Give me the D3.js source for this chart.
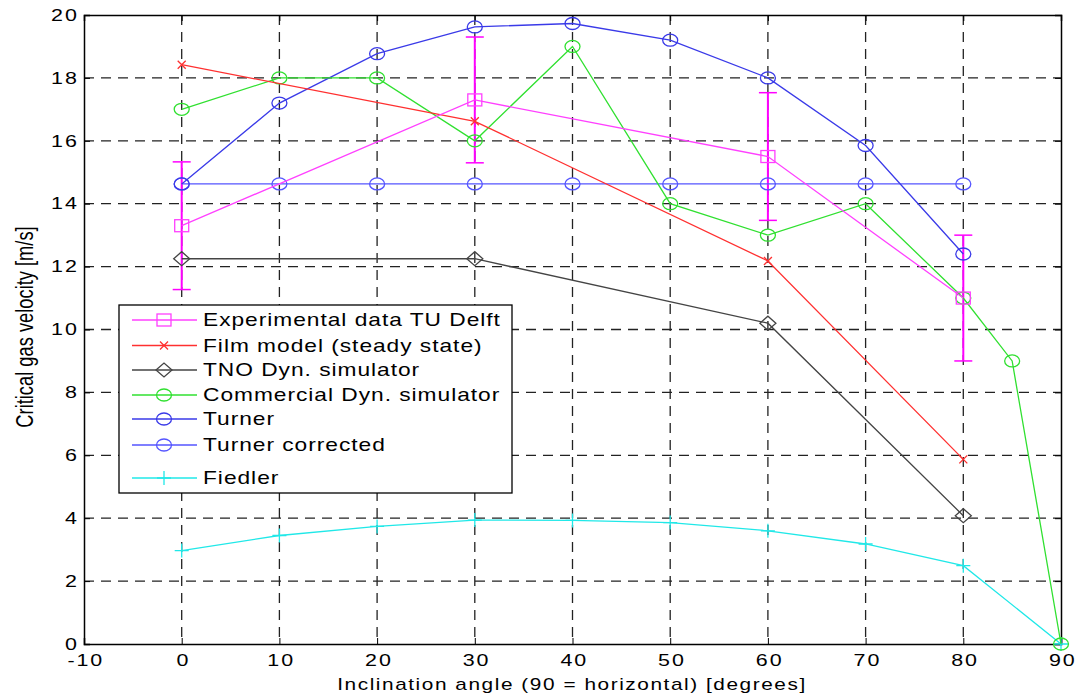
<!DOCTYPE html>
<html>
<head>
<meta charset="utf-8">
<script src="https://cdn.jsdelivr.net/npm/d3@7"></script>
<style>
  body { margin: 0; background: #fff; }
  text { font-family: "Liberation Sans", Arial, sans-serif; fill: #000; }
</style>
</head>
<body>
<div id="viz"></div>
<script>
// data
var angles = [0, 10, 20, 30, 40, 50, 60, 70, 80];
var expAngles = [0, 30, 60, 80];
var expVals = [13.3, 17.3, 15.5, 11.0];
var expErr = [2.03, 2.0, 2.03, 2.0];
var filmAngles = [0, 30, 60, 80];
var filmVals = [18.42, 16.62, 12.18, 5.87];
var tnoAngles = [0, 30, 60, 80];
var tnoVals = [12.25, 12.25, 10.2, 4.08];
var comAngles = [0, 10, 20, 30, 40, 50, 60, 70, 80, 85, 90];
var comVals = [17, 18, 18, 16, 19, 14, 13, 14, 11, 9, 0];
var turnerVals = [14.63, 17.2, 18.77, 19.62, 19.73, 19.2, 18.0, 15.85, 12.4];
var turnerCorrVals = [14.63, 14.63, 14.63, 14.63, 14.63, 14.63, 14.63, 14.63, 14.63];
var fiedlerAngles = [0, 10, 20, 30, 40, 50, 60, 70, 80, 90];
var fiedlerVals = [2.97, 3.45, 3.74, 3.94, 3.93, 3.86, 3.6, 3.18, 2.49, 0];
var xTicks = [-10, 0, 10, 20, 30, 40, 50, 60, 70, 80, 90];
var yTicks = [0, 2, 4, 6, 8, 10, 12, 14, 16, 18, 20];

var width = 1087, height = 697;
var plotL = 84, plotR = 1061, plotT = 15, plotB = 644;
var stretch = 1.3; // the original figure is a bit wider than tall in its lettering

var svg = d3.select("#viz").append("svg")
  .attr("width", width).attr("height", height);

var x = d3.scaleLinear().domain([-10, 90]).range([plotL, plotR]);
var y = d3.scaleLinear().domain([0, 20]).range([plotB, plotT]);

// dashed grid
svg.append("g").selectAll("line")
  .data(xTicks.filter(function(d) { return d > -10 && d < 90; }))
  .enter().append("line")
  .attr("x1", function(d) { return x(d); }).attr("x2", function(d) { return x(d); })
  .attr("y1", plotT).attr("y2", plotB)
  .attr("stroke", "#222").attr("stroke-width", 1.3).attr("stroke-dasharray", "10,7");
svg.append("g").selectAll("line")
  .data(yTicks.filter(function(d) { return d > 0 && d < 20; }))
  .enter().append("line")
  .attr("x1", plotL).attr("x2", plotR)
  .attr("y1", function(d) { return y(d); }).attr("y2", function(d) { return y(d); })
  .attr("stroke", "#222").attr("stroke-width", 1.3).attr("stroke-dasharray", "10,7");

// axes with inward ticks
var fmt = function(d) { return String(d); };
var xAxis = svg.append("g").attr("transform", "translate(0," + plotB + ")")
  .call(d3.axisBottom(x).tickValues(xTicks).tickSize(-6).tickPadding(10).tickFormat(fmt));
svg.append("g").attr("transform", "translate(0," + plotT + ")")
  .call(d3.axisTop(x).tickValues(xTicks).tickSize(-6).tickFormat(""));
var yAxis = svg.append("g").attr("transform", "translate(" + plotL + ",0)")
  .call(d3.axisLeft(y).tickValues(yTicks).tickSize(-6).tickPadding(4).tickFormat(fmt));
svg.append("g").attr("transform", "translate(" + plotR + ",0)")
  .call(d3.axisRight(y).tickValues(yTicks).tickSize(-6).tickFormat(""));
svg.selectAll(".domain").attr("stroke", "#000").attr("stroke-width", 1.5);
svg.selectAll(".tick line").attr("stroke", "#000");
svg.selectAll(".tick text")
  .style("font-size", "16.5px").style("letter-spacing", "1.5px")
  .attr("transform", "scale(" + stretch + ",1)");
xAxis.selectAll(".tick text").attr("dx", "1px");

// axis titles
svg.append("text").attr("transform", "translate(572,690) scale(" + stretch + ",1)")
  .attr("text-anchor", "middle").style("font-size", "16px").style("letter-spacing", "1.2px")
  .text("Inclination angle (90 = horizontal) [degrees]");
svg.append("text").attr("transform", "translate(33,327) scale(" + stretch + ",1) rotate(-90)")
  .attr("text-anchor", "middle").style("font-size", "18.3px")
  .text("Critical gas velocity [m/s]");

var line = d3.line().x(function(d) { return x(d[0]); }).y(function(d) { return y(d[1]); });
function zip(a, b) { return a.map(function(v, i) { return [v, b[i]]; }); }

// marker drawing
function marker(g, type, color, px, py) {
  if (type == "square") {
    g.append("rect").attr("x", px - 7).attr("y", py - 6).attr("width", 14).attr("height", 12)
      .attr("fill", "none").attr("stroke", color).attr("stroke-width", 1.3);
  } else if (type == "circle") {
    g.append("ellipse").attr("cx", px).attr("cy", py).attr("rx", 7.5).attr("ry", 6)
      .attr("fill", "none").attr("stroke", color).attr("stroke-width", 1.3);
  } else if (type == "diamond") {
    g.append("path").attr("d", "M" + (px - 8) + "," + py + "L" + px + "," + (py - 7) +
      "L" + (px + 8) + "," + py + "L" + px + "," + (py + 7) + "Z")
      .attr("fill", "none").attr("stroke", color).attr("stroke-width", 1.3);
  } else if (type == "x") {
    g.append("path").attr("d", "M" + (px - 4) + "," + (py - 4) + "L" + (px + 4) + "," + (py + 4) +
      "M" + (px - 4) + "," + (py + 4) + "L" + (px + 4) + "," + (py - 4))
      .attr("stroke", color).attr("stroke-width", 1.3);
  } else if (type == "plus") {
    g.append("path").attr("d", "M" + (px - 7) + "," + py + "L" + (px + 7) + "," + py +
      "M" + px + "," + (py - 7) + "L" + px + "," + (py + 7))
      .attr("stroke", color).attr("stroke-width", 1.3);
  }
}

var series = [
  { name: "Experimental data TU Delft", color: "#ff40ff", type: "square", pts: zip(expAngles, expVals) },
  { name: "Film model (steady state)", color: "#ff3030", type: "x", pts: zip(filmAngles, filmVals) },
  { name: "TNO Dyn. simulator", color: "#444444", type: "diamond", pts: zip(tnoAngles, tnoVals) },
  { name: "Commercial Dyn. simulator", color: "#30e030", type: "circle", pts: zip(comAngles, comVals) },
  { name: "Turner", color: "#3a3ae8", type: "circle", pts: zip(angles, turnerVals) },
  { name: "Turner corrected", color: "#5555ff", type: "circle", pts: zip(angles, turnerCorrVals) },
  { name: "Fiedler", color: "#20e8e8", type: "plus", pts: zip(fiedlerAngles, fiedlerVals) }
];

// error bars for the experimental data
var eg = svg.append("g");
expAngles.forEach(function(a, i) {
  var cx = x(a), y1 = y(expVals[i] - expErr[i]), y2 = y(expVals[i] + expErr[i]);
  eg.append("line").attr("x1", cx).attr("x2", cx).attr("y1", y1).attr("y2", y2)
    .attr("stroke", "#ff00ff").attr("stroke-width", 2);
  eg.append("line").attr("x1", cx - 9).attr("x2", cx + 9).attr("y1", y1).attr("y2", y1)
    .attr("stroke", "#ff00ff").attr("stroke-width", 1.5);
  eg.append("line").attr("x1", cx - 9).attr("x2", cx + 9).attr("y1", y2).attr("y2", y2)
    .attr("stroke", "#ff00ff").attr("stroke-width", 1.5);
});

series.slice().reverse().forEach(function(s) {
  var g = svg.append("g");
  g.append("path").attr("d", line(s.pts)).attr("fill", "none")
    .attr("stroke", s.color).attr("stroke-width", 1.3);
  s.pts.forEach(function(p) { marker(g, s.type, s.color, x(p[0]), y(p[1])); });
});

// legend
var leg = svg.append("g");
leg.append("rect").attr("x", 119).attr("y", 305).attr("width", 393).attr("height", 188)
  .attr("fill", "#fff").attr("stroke", "#000").attr("stroke-width", 1.3);
var rowY = [320, 345.5, 370, 395, 419, 445, 478];
series.forEach(function(s, i) {
  var ly = rowY[i];
  leg.append("line").attr("x1", 132).attr("x2", 197).attr("y1", ly).attr("y2", ly)
    .attr("stroke", s.color).attr("stroke-width", 1.3);
  marker(leg, s.type, s.color, 164, ly);
  leg.append("text").attr("transform", "translate(203," + ly + ") scale(" + stretch + ",1)")
    .attr("dy", "0.36em")
    .style("font-size", "17.5px").style("letter-spacing", "0.75px").text(s.name);
});
</script>
</body>
</html>
